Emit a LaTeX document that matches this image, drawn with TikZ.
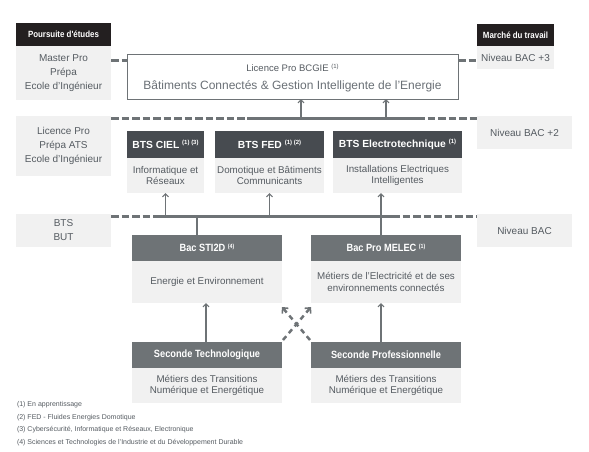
\documentclass[tikz,border=0pt]{standalone}
\usepackage{fontspec}
\setmainfont{Liberation Sans}
\newfontfamily\narrowb[FakeStretch=0.88]{Liberation Sans}
\usetikzlibrary{arrows.meta}
\definecolor{hblack}{HTML}{231F20}
\definecolor{lgrey}{HTML}{F1F1F1}
\definecolor{dgrey}{HTML}{474B50}
\definecolor{mgrey}{HTML}{6E7376}
\definecolor{lnc}{HTML}{6E7376}
\definecolor{txt}{HTML}{555B61}
\definecolor{txttwo}{HTML}{6A7076}
\newcommand\fnote[1]{\raisebox{0.6ex}{\fontsize{6}{6}\selectfont(#1)}}
\tikzset{
  base/.style={inner sep=0pt, outer sep=0pt, align=center},
  sz/.style 2 args={minimum width=#1pt, minimum height=#2pt},
  blackhdr/.style={base, fill=hblack, text=white, font=\narrowb\bfseries\fontsize{9}{11}\selectfont},
  lbox/.style={base, fill=lgrey, text=txt, font=\fontsize{10}{14}\selectfont},
  bbox/.style={base, fill=lgrey, text=txt, font=\fontsize{9.8}{11.5}\selectfont},
  dhdr/.style={base, fill=dgrey, text=white, font=\bfseries\fontsize{10.3}{12}\selectfont},
  mhdr/.style={base, fill=mgrey, text=white, font=\narrowb\bfseries\fontsize{10.5}{12}\selectfont},
  solidln/.style={draw=lnc, line width=3pt},
  dashln/.style={draw=lnc, line width=3pt, dash pattern=on 7.5pt off 3pt},
  arr/.style={draw=lnc, line width=1.8pt, -{Straight Barb[length=3pt,width=6pt,line width=1.2pt]}},
  plain/.style={draw=lnc, line width=1.8pt},
  xarr/.style={draw=lnc, line width=2.5pt, dash pattern=on 5pt off 4pt, -{Straight Barb[length=4pt,width=8pt,line width=1.6pt]}},
  fn/.style={base, anchor=west, text=txt, font=\fontsize{7}{8}\selectfont},
}
\begin{document}
\begin{tikzpicture}[x=1pt,y=-1pt]
\useasboundingbox (0,0) rectangle (589,451);
% row 1
\node[blackhdr, sz={95}{23}] (poH) at (63.5,34.5) {Poursuite d'études};
\node[lbox, sz={95}{54}] (poB) at (63.5,73) {Master Pro\\Prépa\\Ecole d'Ingénieur};
\node[base, draw=lnc, line width=0.9pt, fill=white, sz={331}{45}] (lic) at (292.5,76.5) {};
\node[base, anchor=base, text=txt, font=\fontsize{9.5}{11}\selectfont] (licT1) at (292.5,71.7) {Licence Pro BCGIE \fnote{1}};
\node[base, anchor=base, text=txttwo, font=\fontsize{12}{14}\selectfont] (licT2) at (292.5,89.3) {Bâtiments Connectés \& Gestion Intelligente de l'Energie};
\node[blackhdr, sz={77}{22}] (maH) at (515.5,35) {Marché du travail};
\node[lbox, sz={77}{23}] (maB) at (515.5,57.5) {Niveau BAC +3};
\draw[dashln] (poB.east |- 0,60) -- (lic.west |- 0,60);
\draw[dashln] (lic.east |- 0,60) -- (maB.west |- 0,60);
% row 2
\node[lbox, sz={95}{60}] (lp2) at (63.5,146) {Licence Pro\\Prépa ATS\\Ecole d'Ingénieur};
\node[dhdr, sz={77}{27}] (cielH) at (165.5,144.5) {BTS CIEL \fnote{1}\,\fnote{3}};
\node[bbox, sz={77}{35}] (cielB) at (165.5,175.5) {Informatique et\\Réseaux};
\node[dhdr, sz={109}{27}] (fedH) at (269.5,144.5) {BTS FED \fnote{1}\,\fnote{2}};
\node[bbox, sz={109}{35}] (fedB) at (269.5,175.5) {Domotique et Bâtiments\\Communicants};
\node[dhdr, sz={129}{27}] (elH) at (397.5,144.5) {BTS Electrotechnique \fnote{1}};
\node[bbox, sz={129}{35}] (elB) at (397.5,175.5) {Installations Electriques\\Intelligentes};
\node[lbox, sz={95}{33}] (np2) at (524.5,132.5) {Niveau BAC +2};
\coordinate (r2a) at (247,118);
\coordinate (r2b) at (417,118);
\draw[dashln] (lp2.east |- 0,118) -- (r2a);
\draw[solidln] (r2a) -- (r2b);
\draw[dashln] (r2b) -- (np2.west |- 0,118);
\coordinate (u1) at (301,118);
\coordinate (u2) at (386,118);
\draw[arr] (u1) -- (lic.south -| u1);
\draw[arr] (u2) -- (lic.south -| u2);
% row 3
\node[lbox, sz={95}{33}] (lp3) at (63.5,230.5) {BTS\\BUT};
\node[mhdr, sz={150}{26}] (stiH) at (207,248) {Bac STI2D \fnote{4}};
\node[bbox, sz={150}{42}] (stiB) at (207,282) {Energie et Environnement};
\node[mhdr, sz={150}{26}] (melH) at (386,248) {Bac Pro MELEC \fnote{1}};
\node[bbox, sz={150}{42}] (melB) at (386,282) {Métiers de l'Electricité et de ses\\environnements connectés};
\node[lbox, sz={95}{33}] (np3) at (524.5,230.5) {Niveau BAC};
\coordinate (r3a) at (157,216);
\coordinate (r3b) at (392,216);
\draw[dashln] (lp3.east |- 0,216) -- (r3a);
\draw[solidln] (r3a) -- (r3b);
\draw[dashln] (r3b) -- (np3.west |- 0,216);
\coordinate (v1) at (165.5,216);
\coordinate (v2) at (269.5,216);
\coordinate (v3) at (381,216);
\coordinate (w1) at (197,216);
\draw[arr] (v1) -- (cielB.south);
\draw[arr] (v2) -- (fedB.south);
\draw[arr] (v3) -- (elB.south -| v3);
\draw[plain] (w1) -- (stiH.north -| w1);
\draw[plain] (v3) -- (melH.north -| v3);
% row 4
\node[mhdr, sz={150}{26}] (s2tH) at (207,355) {Seconde Technologique};
\node[bbox, sz={150}{35}] (s2tB) at (207,385.5) {Métiers des Transitions\\Numérique et Energétique};
\node[mhdr, sz={150}{26}] (s2pH) at (386,355) {Seconde Professionnelle};
\node[bbox, sz={150}{35}] (s2pB) at (386,385.5) {Métiers des Transitions\\Numérique et Energétique};
\coordinate (t1) at (206,342);
\coordinate (t2) at (381,342);
\draw[arr] (s2tH.north -| t1) -- (stiB.south -| t1);
\draw[arr] (s2pH.north -| t2) -- (melB.south -| t2);
\coordinate (xa1) at (283,340);
\coordinate (xa2) at (311,307);
\coordinate (xb1) at (310,340);
\coordinate (xb2) at (282,307);
\draw[xarr] (xa1) -- (xa2);
\draw[xarr] (xb1) -- (xb2);
% footnotes
\node[fn] (fn1) at (17,405) {(1) En apprentissage};
\node[fn] (fn2) at (17,417.5) {(2) FED - Fluides Energies Domotique};
\node[fn] (fn3) at (17,430) {(3) Cybersécurité, Informatique et Réseaux, Electronique};
\node[fn] (fn4) at (17,442.5) {(4) Sciences et Technologies de l'Industrie et du Développement Durable};
\end{tikzpicture}
\end{document}
